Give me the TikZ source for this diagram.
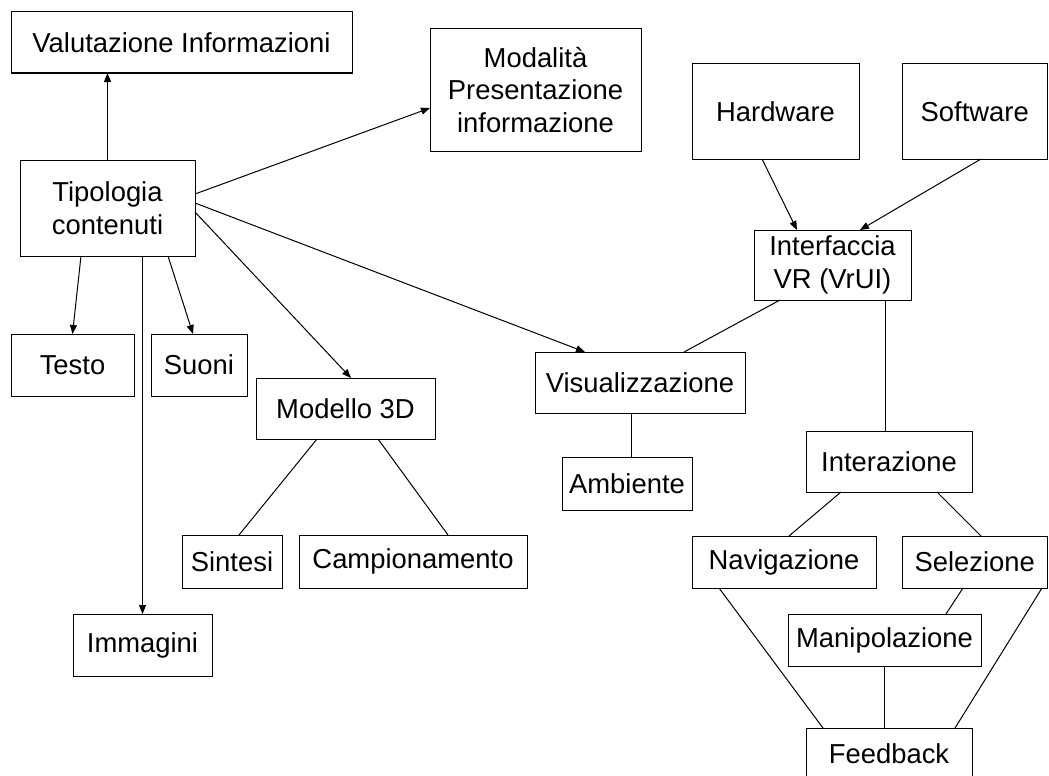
\documentclass[tikz,border=0pt]{standalone}
\usepackage{fontspec}
\setmainfont{Liberation Sans}
\usetikzlibrary{arrows.meta}
\tikzset{
  box/.style={draw=black, line width=1pt, rectangle, inner sep=0pt, outer sep=0pt,
    align=center, font=\fontsize{27.4pt}{32.5pt}\selectfont},
  conn/.style={draw=black, line width=1pt},
  arr/.style={conn, -{Triangle[length=9pt,width=7pt]}}
}
\begin{document}
\begin{tikzpicture}[x=1pt, y=-1pt]
\useasboundingbox (0,0) rectangle (1049,776);
% nodes
\node[box, minimum width=341pt, minimum height=61pt] (val) at (181.5,42.5) {Valutazione Informazioni};
\node[box, minimum width=175pt, minimum height=96pt] (tip) at (107.5,208) {Tipologia\\contenuti};
\node[box, minimum width=211pt, minimum height=122pt] (mod) at (535.5,90) {Modalità\\Presentazione\\informazione};
\node[box, minimum width=167pt, minimum height=95pt] (hw) at (775.5,111.5) {Hardware};
\node[box, minimum width=145.5pt, minimum height=95pt] (sw) at (974.75,111.5) {Software};
\node[box, minimum width=157pt, minimum height=70pt] (intf) at (832.5,265) {Interfaccia\\VR (VrUI)};
\node[box, minimum width=210pt, minimum height=61pt] (vis) at (640,382.5) {Visualizzazione};
\node[box, minimum width=130pt, minimum height=53pt] (amb) at (627,483.5) {Ambiente};
\node[box, minimum width=123pt, minimum height=62pt] (testo) at (72.5,365) {Testo};
\node[box, minimum width=96pt, minimum height=62pt] (suoni) at (199,365) {Suoni};
\node[box, minimum width=179pt, minimum height=61pt] (mod3d) at (345.5,408.5) {Modello 3D};
\node[box, minimum width=100pt, minimum height=53pt] (sintesi) at (232,561.5) {Sintesi};
\node[box, minimum width=228pt, minimum height=53pt] (camp) at (413,561.5) {Campionamento};
\node[box, minimum width=139pt, minimum height=62pt] (imm) at (142.5,645) {Immagini};
\node[box, minimum width=166pt, minimum height=61pt] (inter) at (889,461.5) {Interazione};
\node[box, minimum width=184pt, minimum height=52pt] (nav) at (784,562) {Navigazione};
\node[box, minimum width=145.5pt, minimum height=52pt] (sel) at (974.75,562) {Selezione};
\node[box, minimum width=193pt, minimum height=52pt] (manip) at (884.5,640) {Manipolazione};
\node[box, minimum width=166pt, minimum height=52pt] (feed) at (889,754) {Feedback};
% arrows from Tipologia
\draw[arr] (tip.north) -- (tip.north |- val.south);
\draw[arr] ([yshift=14pt]tip.east) -- ([yshift=-18pt]mod.west);
\draw[arr] ([yshift=5pt]tip.east) -- ([xshift=-55pt]vis.north);
\draw[arr] ([yshift=-4pt]tip.east) -- ([xshift=5.5pt]mod3d.north);
\draw[arr] ([xshift=-26.5pt]tip.south) -- (testo.north);
\draw[arr] (imm.north |- tip.south) -- (imm.north);
\draw[arr] ([xshift=60.5pt]tip.south) -- ([xshift=-6pt]suoni.north);
% hardware / software
\draw[arr] ([xshift=-13.5pt]hw.south) -- ([xshift=-35.5pt]intf.north);
\draw[arr] ([xshift=6.25pt]sw.south) -- ([xshift=27.5pt]intf.north);
% plain lines
\draw[conn] ([xshift=-52.5pt]intf.south) -- ([xshift=44pt]vis.north);
\draw[conn] ([xshift=52.5pt]intf.south) -- ([xshift=52.5pt]intf.south |- inter.north);
\draw[conn] ([xshift=-9pt]vis.south) -- ([xshift=-9pt]vis.south |- amb.north);
\draw[conn] ([xshift=-28.5pt]mod3d.south) -- ([xshift=7pt]sintesi.north);
\draw[conn] ([xshift=32.5pt]mod3d.south) -- ([xshift=35pt]camp.north);
\draw[conn] ([xshift=-48pt]inter.south) -- ([xshift=5pt]nav.north);
\draw[conn] ([xshift=48pt]inter.south) -- ([xshift=6.25pt]sel.north);
\draw[conn] ([xshift=-65pt]nav.south) -- ([xshift=-66pt]feed.north);
\draw[conn] ([xshift=-11.75pt]sel.south) -- ([xshift=61.5pt]manip.north);
\draw[conn] ([xshift=67.25pt]sel.south) -- ([xshift=66pt]feed.north);
\draw[conn] (manip.south) -- (manip.south |- feed.north);
\end{tikzpicture}
\end{document}
